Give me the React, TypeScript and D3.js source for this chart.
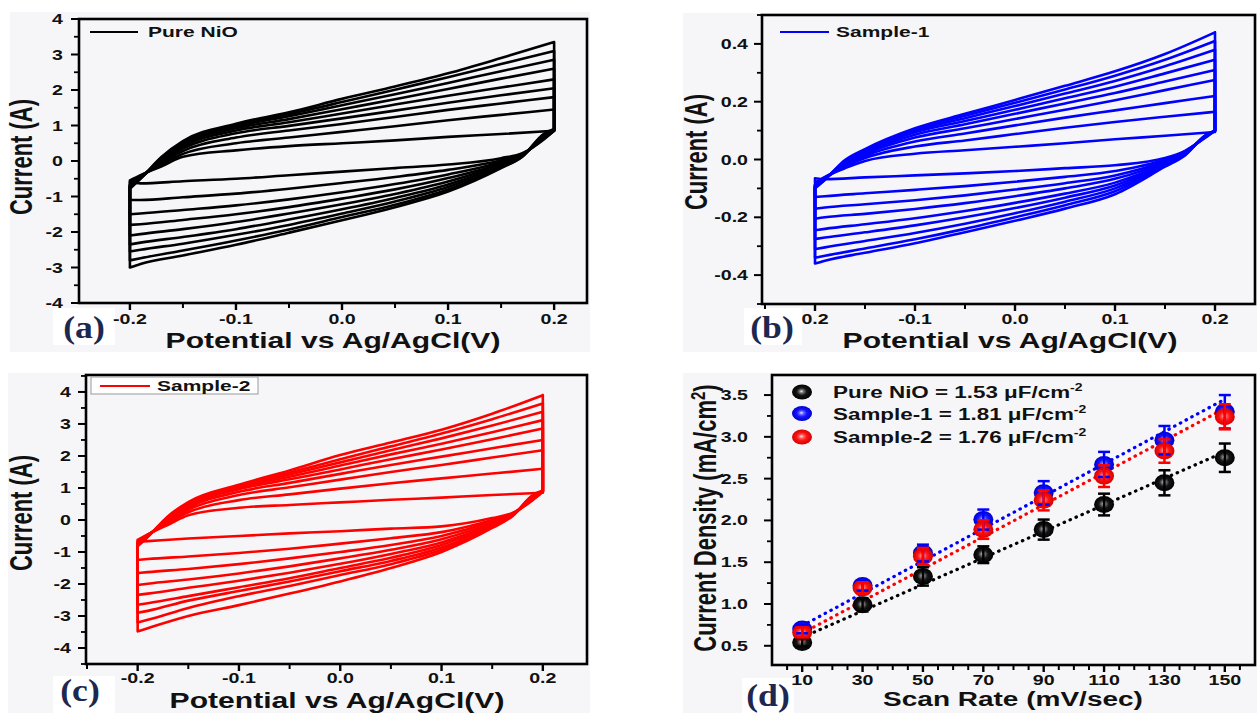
import React, { useEffect, useRef } from "react";
import * as d3 from "d3";

const anodicPotential = [-0.2, -0.19, -0.17, -0.15, -0.1, -0.05, 0, 0.05, 0.1, 0.15, 0.2];
const cathodicPotential = [0.2, 0.19, 0.17, 0.15, 0.1, 0.05, 0, -0.05, -0.1, -0.15, -0.19, -0.2];

// Pure NiO, one row per scan rate (small -> large)
const nioAnodic = [
  [-0.55, -0.4, -0.15, 0.12, 0.3, 0.42, 0.5, 0.58, 0.68, 0.76, 0.85],
  [-0.6, -0.42, -0.1, 0.2, 0.5, 0.66, 0.82, 0.98, 1.15, 1.3, 1.45],
  [-0.65, -0.44, -0.06, 0.28, 0.66, 0.86, 1.04, 1.24, 1.44, 1.62, 1.8],
  [-0.68, -0.45, -0.02, 0.35, 0.78, 0.99, 1.2, 1.42, 1.64, 1.85, 2.05],
  [-0.7, -0.46, 0.0, 0.4, 0.86, 1.09, 1.34, 1.59, 1.84, 2.07, 2.3],
  [-0.72, -0.47, 0.03, 0.45, 0.92, 1.18, 1.46, 1.74, 2.03, 2.32, 2.6],
  [-0.74, -0.48, 0.06, 0.49, 0.97, 1.26, 1.57, 1.88, 2.2, 2.53, 2.85],
  [-0.76, -0.49, 0.09, 0.52, 1.01, 1.32, 1.66, 2.01, 2.36, 2.73, 3.1],
  [-0.78, -0.5, 0.12, 0.56, 1.05, 1.37, 1.75, 2.1, 2.47, 2.9, 3.35],
];
const nioCathodic = [
  [0.85, 0.6, 0.22, 0.08, -0.1, -0.2, -0.3, -0.4, -0.5, -0.57, -0.63, -0.6],
  [0.85, 0.62, 0.2, 0.02, -0.25, -0.45, -0.62, -0.78, -0.92, -1.02, -1.1, -1.1],
  [0.86, 0.64, 0.18, -0.03, -0.38, -0.65, -0.88, -1.08, -1.25, -1.38, -1.48, -1.5],
  [0.86, 0.66, 0.17, -0.07, -0.48, -0.8, -1.06, -1.3, -1.5, -1.66, -1.78, -1.8],
  [0.87, 0.68, 0.16, -0.1, -0.58, -0.93, -1.22, -1.48, -1.72, -1.92, -2.06, -2.1],
  [0.87, 0.7, 0.15, -0.13, -0.66, -1.04, -1.36, -1.65, -1.92, -2.14, -2.3, -2.35],
  [0.88, 0.72, 0.14, -0.16, -0.73, -1.14, -1.48, -1.8, -2.08, -2.33, -2.5, -2.55],
  [0.88, 0.74, 0.13, -0.18, -0.8, -1.23, -1.58, -1.93, -2.24, -2.52, -2.74, -2.8],
  [0.9, 0.76, 0.12, -0.2, -0.86, -1.3, -1.67, -2.02, -2.36, -2.66, -2.9, -3.0],
];

// Sample-1
const s1Anodic = [
  [-0.08, -0.06, -0.03, -0.005, 0.02, 0.032, 0.044, 0.056, 0.07, 0.082, 0.095],
  [-0.085, -0.062, -0.025, 0.005, 0.045, 0.066, 0.088, 0.11, 0.13, 0.148, 0.165],
  [-0.088, -0.064, -0.02, 0.012, 0.062, 0.09, 0.118, 0.145, 0.17, 0.195, 0.22],
  [-0.09, -0.065, -0.017, 0.018, 0.076, 0.108, 0.14, 0.172, 0.205, 0.24, 0.275],
  [-0.092, -0.066, -0.014, 0.023, 0.086, 0.122, 0.158, 0.194, 0.23, 0.27, 0.31],
  [-0.094, -0.067, -0.011, 0.027, 0.094, 0.133, 0.172, 0.212, 0.252, 0.298, 0.345],
  [-0.096, -0.068, -0.008, 0.03, 0.1, 0.143, 0.185, 0.228, 0.272, 0.323, 0.38],
  [-0.098, -0.069, -0.005, 0.033, 0.105, 0.151, 0.196, 0.242, 0.29, 0.345, 0.41],
  [-0.1, -0.07, -0.002, 0.036, 0.108, 0.158, 0.206, 0.255, 0.305, 0.365, 0.44],
];
const s1Cathodic = [
  [0.1, 0.075, 0.03, 0.005, -0.02, -0.03, -0.04, -0.048, -0.055, -0.062, -0.068, -0.065],
  [0.1, 0.076, 0.028, 0.0, -0.04, -0.06, -0.077, -0.092, -0.105, -0.117, -0.127, -0.13],
  [0.1, 0.077, 0.026, -0.005, -0.055, -0.082, -0.104, -0.124, -0.141, -0.155, -0.166, -0.17],
  [0.1, 0.078, 0.024, -0.009, -0.067, -0.1, -0.127, -0.151, -0.171, -0.188, -0.2, -0.205],
  [0.1, 0.079, 0.022, -0.013, -0.08, -0.118, -0.15, -0.178, -0.203, -0.224, -0.24, -0.245],
  [0.1, 0.08, 0.02, -0.016, -0.09, -0.132, -0.168, -0.2, -0.228, -0.252, -0.27, -0.275],
  [0.1, 0.081, 0.018, -0.019, -0.1, -0.146, -0.186, -0.222, -0.254, -0.282, -0.304, -0.31],
  [0.1, 0.082, 0.016, -0.022, -0.11, -0.158, -0.2, -0.24, -0.276, -0.308, -0.333, -0.34],
  [0.1, 0.083, 0.014, -0.025, -0.12, -0.17, -0.212, -0.252, -0.29, -0.323, -0.35, -0.36],
];

// Sample-2
const s2Anodic = [
  [-0.62, -0.45, -0.15, 0.15, 0.38, 0.47, 0.55, 0.63, 0.7, 0.78, 0.85],
  [-0.66, -0.46, -0.1, 0.24, 0.62, 0.8, 0.98, 1.15, 1.3, 1.45, 1.6],
  [-0.7, -0.47, -0.06, 0.32, 0.78, 1.02, 1.26, 1.5, 1.72, 1.95, 2.18],
  [-0.72, -0.48, -0.03, 0.38, 0.88, 1.16, 1.44, 1.72, 1.98, 2.24, 2.5],
  [-0.74, -0.49, 0.0, 0.43, 0.96, 1.27, 1.58, 1.9, 2.2, 2.52, 2.86],
  [-0.76, -0.5, 0.03, 0.47, 1.01, 1.35, 1.7, 2.05, 2.38, 2.74, 3.12],
  [-0.78, -0.51, 0.06, 0.5, 1.05, 1.42, 1.8, 2.18, 2.55, 2.95, 3.38],
  [-0.8, -0.52, 0.09, 0.53, 1.08, 1.48, 1.9, 2.3, 2.7, 3.15, 3.64],
  [-0.82, -0.53, 0.12, 0.56, 1.1, 1.55, 2.03, 2.42, 2.82, 3.32, 3.9],
];
const s2Cathodic = [
  [0.88, 0.62, 0.22, 0.06, -0.2, -0.27, -0.35, -0.42, -0.5, -0.58, -0.66, -0.68],
  [0.88, 0.64, 0.2, 0.0, -0.38, -0.57, -0.74, -0.9, -1.03, -1.14, -1.22, -1.25],
  [0.89, 0.66, 0.18, -0.05, -0.5, -0.78, -1.0, -1.2, -1.38, -1.53, -1.63, -1.66],
  [0.89, 0.68, 0.17, -0.09, -0.6, -0.93, -1.2, -1.45, -1.67, -1.86, -1.99, -2.03],
  [0.9, 0.7, 0.16, -0.13, -0.7, -1.06, -1.37, -1.65, -1.9, -2.12, -2.3, -2.34],
  [0.9, 0.72, 0.15, -0.16, -0.78, -1.18, -1.5, -1.82, -2.1, -2.38, -2.6, -2.65],
  [0.91, 0.74, 0.14, -0.19, -0.86, -1.28, -1.6, -1.92, -2.22, -2.52, -2.84, -2.9],
  [0.91, 0.76, 0.13, -0.22, -0.93, -1.38, -1.72, -2.06, -2.38, -2.75, -3.12, -3.2],
  [0.92, 0.78, 0.12, -0.25, -1.0, -1.5, -1.92, -2.3, -2.66, -3.0, -3.38, -3.48],
];

const potentialTicks = [-0.2, -0.1, 0, 0.1, 0.2];
const potentialLabels = ["-0.2", "-0.1", "0.0", "0.1", "0.2"];
const potentialLabelsB = ["0.2", "-0.1", "0.0", "0.1", "0.2"];
const ampTicks = [-4, -3, -2, -1, 0, 1, 2, 3, 4];
const ampTicksB = [-0.4, -0.2, 0, 0.2, 0.4];

// panel (d)
const scanRates = [10, 30, 50, 70, 90, 110, 130, 150];
const nioDensity = [0.54, 0.99, 1.33, 1.59, 1.89, 2.19, 2.45, 2.75];
const nioError = [0.05, 0.08, 0.11, 0.1, 0.12, 0.13, 0.15, 0.17];
const s1Density = [0.7, 1.22, 1.61, 2.01, 2.33, 2.67, 2.96, 3.3];
const s1Error = [0.05, 0.06, 0.1, 0.12, 0.14, 0.15, 0.17, 0.2];
const s2Density = [0.66, 1.19, 1.57, 1.89, 2.24, 2.53, 2.83, 3.24];
const s2Error = [0.06, 0.07, 0.1, 0.11, 0.12, 0.13, 0.14, 0.15];
const fitEnds = [10, 150];
const nioFit = [0.6, 2.82];
const s1Fit = [0.74, 3.45];
const s2Fit = [0.65, 3.34];
const sampleNames = ["Pure NiO", "Sample-1", "Sample-2"];
const capacitances = ["1.53", "1.81", "1.76"];
const densityTicks = [0.5, 1.0, 1.5, 2.0, 2.5, 3.0, 3.5];
const rateTicks = [10, 30, 50, 70, 90, 110, 130, 150];

const SX = 1.4;
const FONT = "'Liberation Sans', Arial, Helvetica, sans-serif";
const SERIF = "'Liberation Serif', 'Times New Roman', serif";

const App: React.FC = () => {
  const svgRef = useRef<SVGSVGElement | null>(null);

  useEffect(() => {
    const svg = d3.select(svgRef.current);
    svg.selectAll("*").remove();

    const txt = (g: any, x: number, y: number, s: string, size: number, anchor = "middle") =>
      g
        .append("text")
        .attr("transform", `translate(${x},${y}) scale(${SX},1)`)
        .attr("text-anchor", anchor)
        .attr("font-family", FONT)
        .attr("font-weight", "bold")
        .attr("font-size", size)
        .attr("fill", "#111")
        .text(s);

    const vtxt = (g: any, x: number, y: number, s: string, size: number) =>
      g
        .append("text")
        .attr("transform", `translate(${x},${y}) rotate(-90) scale(1,${SX})`)
        .attr("text-anchor", "middle")
        .attr("font-family", FONT)
        .attr("font-weight", "bold")
        .attr("font-size", size)
        .attr("fill", "#111")
        .text(s);

    const panelBg = (b: number[], letter: number[], label: string, lx: number, ly: number) => {
      svg.append("rect").attr("x", b[0]).attr("y", b[1]).attr("width", b[2]).attr("height", b[3]).attr("fill", "#f6f6f8");
      svg.append("rect").attr("x", letter[0]).attr("y", letter[1]).attr("width", letter[2]).attr("height", letter[3]).attr("fill", "#fff");
      svg
        .append("text")
        .attr("transform", `translate(${lx},${ly}) scale(1.15,1)`)
        .attr("text-anchor", "middle")
        .attr("font-family", SERIF)
        .attr("font-weight", "bold")
        .attr("font-size", 31)
        .attr("fill", "#1d2850")
        .text(label);
    };

    const axes = (
      x: any,
      y: any,
      xt: number[],
      xl: string[],
      xMinor: number[],
      yt: number[],
      yl: (v: number) => string,
      yMinor: number[],
      yGap: number,
      xLabelY: number
    ) => {
      const [x0, x1] = x.range();
      const [y0, y1] = y.range();
      const g = svg.append("g");
      const tick = (a: number, b: number, c: number, d: number, w: number) =>
        g.append("line").attr("x1", a).attr("y1", b).attr("x2", c).attr("y2", d).attr("stroke", "#000").attr("stroke-width", w);
      yt.forEach((v) => {
        tick(x0 - 8, y(v), x0, y(v), 2);
        txt(g, x0 - yGap, y(v) + 5, yl(v), 14, "end");
      });
      yMinor.forEach((v) => tick(x0 - 5, y(v), x0, y(v), 1.8));
      xt.forEach((v, i) => {
        tick(x(v), y0, x(v), y0 + 7, 2.4);
        txt(g, x(v), xLabelY, xl[i], 14);
      });
      xMinor.forEach((v) => tick(x(v), y0, x(v), y0 + 5, 2));
      g.append("rect")
        .attr("x", x0)
        .attr("y", y1)
        .attr("width", x1 - x0)
        .attr("height", y0 - y1)
        .attr("fill", "none")
        .attr("stroke", "#000")
        .attr("stroke-width", 2.6);
    };

    const notIn = (arr: number[]) => (v: number) => !arr.some((a) => Math.abs(a - v) < 1e-6);

    // ---------- CV panels ----------
    const cvPanels = [
      {
        anodic: nioAnodic, cathodic: nioCathodic, color: "#000", name: sampleNames[0],
        xDom: [-0.248, 0.231], yDom: [-4, 4], plot: [79, 587, 19, 303],
        yTicks: ampTicks, yMinor: d3.range(-3.5, 4, 1), yFmt: (v: number) => String(v), yGap: 16,
        xLabels: potentialLabels, bg: [10, 12, 580, 340], letterBox: [53, 308, 62, 37], letter: "(a)", lxy: [84, 338],
        yTitle: [32, 157], xTitle: [333, 348], legend: { line: [90, 138, 32], text: [148, 37], box: null as null | number[] },
        xLabelY: 324,
      },
      {
        anodic: s1Anodic, cathodic: s1Cathodic, color: "#0000ff", name: sampleNames[1],
        xDom: [-0.253, 0.24], yDom: [-0.5, 0.5], plot: [762, 1255, 15, 304],
        yTicks: ampTicksB, yMinor: d3.range(-0.5, 0.51, 0.1).filter(notIn(ampTicksB)), yFmt: (v: number) => v.toFixed(1).replace("−", "-"), yGap: 14,
        xLabels: potentialLabelsB, bg: [683, 13, 574, 339], letterBox: [744, 308, 58, 37], letter: "(b)", lxy: [772, 338],
        yTitle: [707, 152], xTitle: [1010, 348], legend: { line: [780, 829, 32], text: [836, 37], box: null as null | number[] },
        xLabelY: 324,
      },
      {
        anodic: s2Anodic, cathodic: s2Cathodic, color: "#ff0000", name: sampleNames[2],
        xDom: [-0.251, 0.2436], yDom: [-4.5, 4.53], plot: [86, 587, 375, 664],
        yTicks: ampTicks, yMinor: d3.range(-4.5, 4.6, 0.5).filter(notIn(ampTicks)), yFmt: (v: number) => String(v), yGap: 15,
        xLabels: potentialLabels, bg: [8, 373, 582, 340], letterBox: [53, 676, 62, 37], letter: "(c)", lxy: [80, 701],
        yTitle: [32, 513], xTitle: [337, 708], legend: { line: [100, 150, 386], text: [157, 391], box: [91, 377, 167, 17] },
        xLabelY: 683,
      },
    ];

    cvPanels.forEach((p) => {
      panelBg(p.bg, p.letterBox, p.letter, p.lxy[0], p.lxy[1]);
      const x = d3.scaleLinear().domain(p.xDom).range([p.plot[0], p.plot[1]]);
      const y = d3.scaleLinear().domain(p.yDom).range([p.plot[3], p.plot[2]]);
      const branch = d3
        .line<number[]>()
        .x((d) => x(d[0]))
        .y((d) => y(d[1]))
        .curve(d3.curveMonotoneX);
      const straight = d3
        .line<number[]>()
        .x((d) => x(d[0]))
        .y((d) => y(d[1]));
      const g = svg.append("g");
      p.anodic.forEach((row, i) => {
        const up = row.map((v, j) => [anodicPotential[j], v]);
        const down = p.cathodic[i].map((v, j) => [cathodicPotential[j], v]).reverse();
        const turnRight = [up[up.length - 1], down[down.length - 1]];
        const turnLeft = [down[0], up[0]];
        const d = [branch(up), branch(down), straight(turnRight), straight(turnLeft)].join("");
        g.append("path")
          .attr("d", d)
          .attr("fill", "none")
          .attr("stroke", p.color)
          .attr("stroke-width", 2.6)
          .attr("stroke-linecap", "round")
          .attr("stroke-linejoin", "round");
      });
      const xMinor = d3.range(-0.25, 0.26, 0.05).filter((v) => x(v) > p.plot[0] + 1 && x(v) < p.plot[1] - 1).filter(notIn(potentialTicks));
      axes(x, y, potentialTicks, p.xLabels, xMinor, p.yTicks, p.yFmt, p.yMinor, p.yGap, p.xLabelY);
      vtxt(svg, p.yTitle[0], p.yTitle[1], "Current (A)", 22);
      txt(svg, p.xTitle[0], p.xTitle[1], "Potential vs Ag/AgCl(V)", 21.5);
      if (p.legend.box) {
        const b = p.legend.box;
        svg.append("rect").attr("x", b[0]).attr("y", b[1]).attr("width", b[2]).attr("height", b[3]).attr("fill", "#fff").attr("stroke", "#999").attr("stroke-width", 1);
      }
      svg.append("line")
        .attr("x1", p.legend.line[0]).attr("x2", p.legend.line[1])
        .attr("y1", p.legend.line[2]).attr("y2", p.legend.line[2])
        .attr("stroke", p.color).attr("stroke-width", 2.2);
      txt(svg, p.legend.text[0], p.legend.text[1], p.name, 15, "start");
    });

    // ---------- panel (d) ----------
    panelBg([683, 373, 574, 340], [742, 678, 52, 35], "(d)", 768, 706);
    const plotD = [772, 1255, 375, 665];
    const xd = d3.scaleLinear().domain([0, 160]).range([plotD[0], plotD[1]]);
    const yd = d3.scaleLinear().domain([0.27, 3.74]).range([plotD[3], plotD[2]]);

    const colors = ["#000000", "#0000ff", "#ff0000"];
    const stops = [
      ["#f2f2f2", "#777777", "#151515", "#000000"],
      ["#eeeeff", "#7070ff", "#1515ff", "#0000cc"],
      ["#ffeeee", "#ff7070", "#ff1515", "#d40000"],
    ];
    const defs = svg.append("defs");
    stops.forEach((s, i) => {
      const gr = defs
        .append("radialGradient")
        .attr("id", `sphere${i}`)
        .attr("cx", 0.5).attr("cy", 0.5).attr("r", 0.5)
        .attr("fx", 0.47).attr("fy", 0.45);
      [0, 0.2, 0.5, 1].forEach((o, k) => gr.append("stop").attr("offset", o).attr("stop-color", s[k]));
    });

    const series = [
      { values: nioDensity, errors: nioError, fit: nioFit },
      { values: s1Density, errors: s1Error, fit: s1Fit },
      { values: s2Density, errors: s2Error, fit: s2Fit },
    ];

    const gd = svg.append("g");
    series.forEach((s, i) => {
      gd.append("line")
        .attr("x1", xd(fitEnds[0])).attr("y1", yd(s.fit[0]))
        .attr("x2", xd(fitEnds[1])).attr("y2", yd(s.fit[1]))
        .attr("stroke", colors[i])
        .attr("stroke-width", 3.2)
        .attr("stroke-linecap", "round")
        .attr("stroke-dasharray", "0.5,6");
    });
    series.forEach((s, i) => {
      gd.selectAll(null)
        .data(s.values)
        .enter()
        .append("ellipse")
        .attr("cx", (_, j) => xd(scanRates[j]))
        .attr("cy", (d) => yd(d))
        .attr("rx", 10)
        .attr("ry", 8.5)
        .attr("fill", `url(#sphere${i})`);
    });
    series.forEach((s, i) => {
      s.values.forEach((v, j) => {
        const cx = xd(scanRates[j]);
        const top = yd(v + s.errors[j]);
        const bot = yd(v - s.errors[j]);
        const eg = gd.append("g").attr("stroke", colors[i]).attr("stroke-width", 2.5);
        eg.append("line").attr("x1", cx).attr("x2", cx).attr("y1", top).attr("y2", bot);
        eg.append("line").attr("x1", cx - 6).attr("x2", cx + 6).attr("y1", top).attr("y2", top);
        eg.append("line").attr("x1", cx - 6).attr("x2", cx + 6).attr("y1", bot).attr("y2", bot);
      });
    });

    axes(
      xd, yd, rateTicks, rateTicks.map(String),
      d3.range(5, 160, 5).filter(notIn(rateTicks)),
      densityTicks, (v) => v.toFixed(1),
      d3.range(0.75, 3.6, 0.5), 24, 685
    );

    // legend
    const legendY = [392, 413.5, 437];
    series.forEach((_, i) => {
      svg.append("ellipse").attr("cx", 802).attr("cy", legendY[i]).attr("rx", 10).attr("ry", 7.5).attr("fill", `url(#sphere${i})`);
      const t = txt(svg, 833, legendY[i] + 6, "", 16, "start");
      t.append("tspan").text(`${sampleNames[i]} = ${capacitances[i]} \u03bcF/cm`);
      t.append("tspan").attr("dy", -7).attr("font-size", 10).text("-2");
    });

    const yt = vtxt(svg, 716, 518, "", 22);
    yt.append("tspan").text("Current Density (mA/cm");
    yt.append("tspan").attr("dy", -8).attr("font-size", 15).text("2");
    yt.append("tspan").attr("dy", 8).text(")");
    txt(svg, 1013, 706, "Scan Rate (mV/sec)", 20);
  }, []);

  return (
    <div style={{ position: "absolute", left: 0, top: 0, width: 1257, height: 713, background: "#fff" }}>
      <svg ref={svgRef} width={1257} height={713}></svg>
    </div>
  );
};

export default App;
